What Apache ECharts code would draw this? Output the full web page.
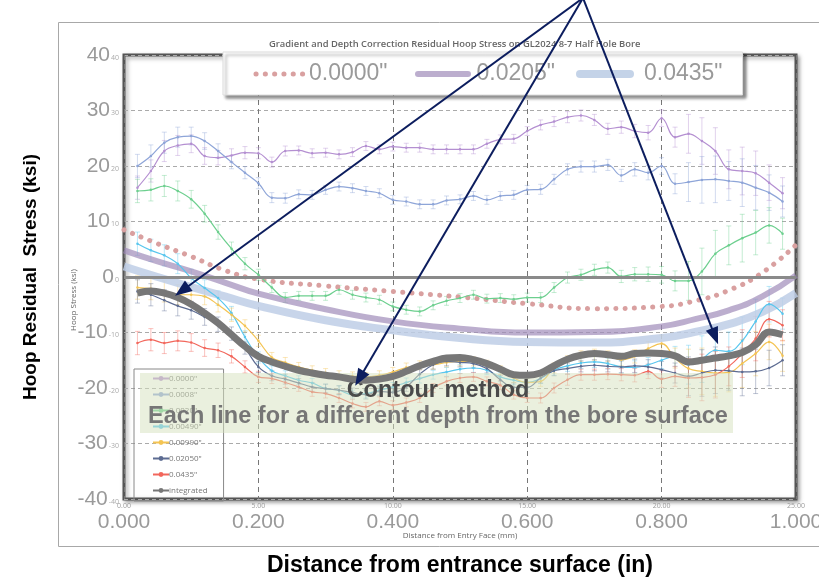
<!DOCTYPE html>
<html><head><meta charset="utf-8">
<script src="https://cdn.jsdelivr.net/npm/echarts@6/dist/echarts.min.js"></script>
<style>html,body{margin:0;padding:0;background:#fff}#c{width:819px;height:579px}</style>
</head><body><div id="c"></div>
<script>
// ---- Outer (thick / dotted) curves, x in inches ----
const xIn = [0, 0.05, 0.1, 0.15, 0.2, 0.3, 0.4, 0.5, 0.6, 0.7, 0.8, 0.85, 0.9, 0.95, 1.0];
const outer0000 = [8.5, 6.0, 3.7, 1.2, -0.4, -1.6, -2.6, -3.6, -4.8, -5.7, -5.3, -4.3, -2.4, 0.8, 5.8];
const outer0205 = [4.8, 2.8, 1.0, -1.0, -3.0, -5.8, -8.0, -9.3, -10.0, -9.9, -8.9, -7.6, -6.0, -3.5, 0.3];
const outer0435 = [1.9, 0.0, -1.8, -3.5, -5.2, -7.8, -9.6, -11.0, -11.7, -11.8, -11.0, -9.9, -8.5, -6.3, -2.9];

// ---- Contour method lines, x in mm ----
const xMm = [0.5,1.0,1.5,2.0,2.5,3.0,3.5,4.0,4.5,5.0,5.5,6.0,6.5,7.0,7.5,8.0,8.5,9.0,9.5,10.0,
  10.5,11.0,11.5,12.0,12.5,13.0,13.5,14.0,14.5,15.0,15.5,16.0,16.5,17.0,17.5,18.0,18.5,19.0,19.5,20.0,
  20.5,21.0,21.5,22.0,22.5,23.0,23.5,24.0,24.5];
const d0000 = [16.1,19.1,22.7,23.7,24.0,21.8,21.5,21.9,22.4,22.3,20.7,22.7,22.8,22.3,22.4,22.1,22.5,23.6,23.0,23.5,
  23.3,23.3,23.0,23.0,23.0,23.0,24.0,24.8,24.9,26.3,27.4,28.0,28.8,29.1,28.3,26.7,27.0,26.3,26.0,28.6,
  25.2,25.8,24.5,22.7,19.4,19.1,18.7,17.0,15.1];
const d0008 = [20.0,21.8,24.2,25.2,25.4,24.5,22.7,20.7,18.8,16.9,14.3,14.2,14.9,14.8,15.7,16.3,16.0,15.5,15.1,13.9,
  13.6,13.1,13.1,13.8,14.0,14.6,13.9,14.6,14.8,15.7,15.8,17.6,19.4,19.9,19.9,20.2,18.3,19.4,18.8,20.0,
  16.8,17.1,17.5,17.6,17.3,17.0,16.1,15.2,13.6];
const d0020 = [15.5,15.7,16.4,15.5,14.0,11.4,8.1,5.1,2.4,0.4,-1.9,-3.7,-3.4,-3.4,-3.4,-2.3,-3.2,-3.7,-4.1,-5.3,
  -5.9,-6.2,-5.1,-4.3,-3.8,-3.2,-3.9,-3.8,-4.0,-3.7,-3.7,-1.9,-0.1,0.4,1.3,1.7,0.1,0.5,0.5,0.4,
  -0.7,-0.7,1.0,4.2,5.7,7.0,8.0,9.3,7.8];
const d0049 = [6.0,4.8,3.9,2.4,-0.2,-2.0,-3.8,-6.5,-10.8,-14.5,-16.9,-17.8,-18.6,-19.1,-20.1,-20.4,-21.2,-21.0,-20.4,-19.8,
  -19.0,-18.3,-17.6,-17.1,-16.6,-16.4,-16.8,-18.0,-18.6,-19.0,-18.3,-16.8,-16.0,-15.5,-15.3,-15.6,-16.2,-16.3,-15.8,-15.0,
  -14.3,-15.8,-14.8,-13.2,-13.4,-11.5,-8.0,-4.9,-6.6];
const d0099 = [-1.9,-2.1,-2.6,-3.2,-3.2,-3.5,-5.0,-6.8,-8.8,-11.5,-14.5,-15.4,-16.2,-16.8,-17.3,-17.7,-17.9,-18.0,-17.7,-17.1,
  -16.3,-15.9,-15.8,-15.4,-15.2,-15.2,-15.8,-16.8,-18.2,-19.0,-18.8,-16.4,-15.2,-14.3,-14.0,-14.3,-14.9,-14.3,-12.9,-12.0,
  -14.6,-16.5,-17.0,-17.3,-17.2,-15.6,-13.8,-11.7,-14.2];
const d0205 = [-2.6,-3.2,-4.2,-5.2,-6.0,-7.2,-8.5,-10.2,-12.8,-16.2,-17.8,-18.4,-19.1,-19.8,-20.1,-20.4,-20.8,-21.2,-20.6,-20.8,
  -19.8,-17.5,-15.8,-15.2,-15.4,-15.6,-16.5,-18.5,-19.9,-19.9,-18.2,-16.9,-16.5,-16.1,-15.9,-16.1,-16.2,-16.0,-16.2,-16.7,
  -17.3,-17.9,-17.3,-16.8,-16.9,-17.1,-17.0,-16.4,-15.0];
const d0435 = [-11.9,-11.3,-11.9,-11.5,-11.8,-12.8,-13.2,-14.3,-16.2,-18.0,-18.3,-19.0,-19.8,-20.7,-21.0,-21.8,-22.8,-23.4,-22.4,-23.1,
  -22.6,-21.8,-20.0,-18.8,-18.2,-18.0,-18.8,-19.5,-21.2,-21.8,-21.8,-20.0,-18.5,-17.6,-17.6,-17.5,-17.6,-17.7,-17.0,-18.4,
  -17.9,-18.2,-18.1,-17.6,-16.1,-13.8,-11.1,-7.6,-8.7];
const dIntegrated = [-2.9,-2.5,-2.9,-3.7,-4.9,-6.5,-8.3,-10.4,-12.5,-14.3,-15.3,-16.1,-16.8,-17.3,-17.7,-18.0,-18.4,-18.6,-18.4,-17.9,
  -17.0,-16.0,-15.2,-14.6,-14.5,-14.9,-15.6,-16.6,-17.6,-17.7,-17.3,-16.0,-14.8,-14.1,-13.8,-14.0,-14.3,-13.8,-13.7,-13.8,
  -14.2,-15.3,-15.0,-14.6,-14.2,-13.6,-12.2,-9.9,-10.4];
// half-length of the error bars at each mm position
const errHalf = [2.1,2.0,1.9,1.8,1.6,1.5,1.3,1.2,1.1,1.0,
  0.9,0.9,0.8,0.8,0.8,0.8,0.8,0.8,0.8,0.8,
  0.8,0.8,0.8,0.8,0.8,0.8,0.8,0.8,0.8,0.8,
  0.9,0.9,1.0,1.0,1.0,1.0,1.1,1.2,1.3,1.5,
  1.8,3.5,4.2,4.2,3.5,4.3,4.0,3.2,2.8];

const outerNames = ['0.0000"', '0.0205"', '0.0435"'];
const innerNames = ['0.0000"', '0.0008"', '0.0020"', '0.00490"', '0.00990"', '0.02050"', '0.0435"', 'integrated'];
const innerColors = ['#b48fd1', '#8ea5d8', '#6ccf8e', '#58c6ee', '#f4c453', '#5d6c92', '#f2675c', '#777777'];
const innerData = [d0000, d0008, d0020, d0049, d0099, d0205, d0435, dIntegrated];

// arrow targets (data coords: mm, ksi)
const arrowTargets = [[1.9, -3.4], [8.6, -19.6], [22.1, -12.1]];

const pair = (xs, ys) => xs.map((x, i) => [x, ys[i]]);
const IP = 'i ';

function hexA(hex, a) {
  const n = parseInt(hex.slice(1), 16);
  return 'rgba(' + (n >> 16) + ',' + ((n >> 8) & 255) + ',' + (n & 255) + ',' + a + ')';
}

const series = [];
series.push({
  name: outerNames[0], type: 'line', xAxisIndex: 0, yAxisIndex: 0, smooth: 0.5, symbol: 'none',
  data: pair(xIn, outer0000),
  lineStyle: { color: '#d9a0a0', width: 5, type: [0.1, 9.2], cap: 'round' }, itemStyle: { color: '#d9a0a0' }, z: 3,
  markLine: { silent: true, symbol: 'none', label: { show: false },
    lineStyle: { color: '#8a8a8a', width: 3, type: 'solid' }, data: [{ yAxis: 0 }] }
});
series.push({
  name: outerNames[1], type: 'line', xAxisIndex: 0, yAxisIndex: 0, smooth: 0.5, symbol: 'none',
  data: pair(xIn, outer0205), lineStyle: { color: 'rgba(160,140,185,0.7)', width: 6 }, itemStyle: { color: '#a898bb' }, z: 3
});
series.push({
  name: outerNames[2], type: 'line', xAxisIndex: 0, yAxisIndex: 0, smooth: 0.5, symbol: 'none',
  data: pair(xIn, outer0435), lineStyle: { color: 'rgba(190,206,230,0.85)', width: 8 }, itemStyle: { color: '#c4d2e8' }, z: 3
});
innerNames.forEach((n, k) => {
  const integ = n === 'integrated';
  if (!integ) {
    series.push({
      name: 'err ' + n, type: 'custom', xAxisIndex: 1, yAxisIndex: 0, silent: true, z: 3,
      data: xMm.map((x, i) => [x, innerData[k][i] - errHalf[i], innerData[k][i] + errHalf[i]]),
      encode: { x: 0, y: [1, 2] },
      renderItem: (params, api) => {
        const lo = api.coord([api.value(0), api.value(1)]);
        const hi = api.coord([api.value(0), api.value(2)]);
        const c = hexA(innerColors[k], 0.4);
        const st = { stroke: c, lineWidth: 1 };
        return { type: 'group', children: [
          { type: 'line', shape: { x1: lo[0], y1: lo[1], x2: hi[0], y2: hi[1] }, style: st },
          { type: 'line', shape: { x1: lo[0] - 2.5, y1: lo[1], x2: lo[0] + 2.5, y2: lo[1] }, style: st },
          { type: 'line', shape: { x1: hi[0] - 2.5, y1: hi[1], x2: hi[0] + 2.5, y2: hi[1] }, style: st }
        ] };
      }
    });
  }
  series.push({
    name: IP + n, type: 'line', xAxisIndex: 1, yAxisIndex: 0, smooth: 0.4,
    symbol: integ ? 'none' : 'circle', symbolSize: 2.5, showSymbol: !integ,
    data: pair(xMm, innerData[k]),
    lineStyle: { color: innerColors[k], width: integ ? 7 : 1.2 },
    itemStyle: { color: innerColors[k] }, z: integ ? 6 : 4
  });
});

const chart = echarts.init(document.getElementById('c'), null, { renderer: 'canvas', width: 819, height: 579 });
const gridL = 124, gridR = 23, gridT = 55, gridB = 80;

chart.setOption({
  animation: false,
  title: {
    text: 'Gradient and Depth Correction Residual Hoop Stress on GL2024 8-7 Half Hole Bore',
    left: 264, top: 35,
    textStyle: { fontSize: 9.4, fontWeight: 600, color: '#666', fontFamily: 'Open Sans' }
  },
  grid: {
    left: gridL, right: gridR, top: gridT, bottom: gridB, show: true,
    outerBoundsMode: 'none', containLabel: false,
    backgroundColor: '#fff', borderColor: '#555', borderWidth: 3,
    shadowColor: 'rgba(0,0,0,0.35)', shadowBlur: 4, shadowOffsetX: 2, shadowOffsetY: 2
  },
  legend: [
    {
      data: outerNames.map(n => ({
        name: n, icon: 'rect',
        itemStyle: { color: 'rgba(0,0,0,0)', borderWidth: 0 }
      })),
      left: 223, top: 52, orient: 'horizontal',
      itemWidth: 50, itemHeight: 20, itemGap: 34,
      padding: [10, 20, 10, 31],
      backgroundColor: '#fff', borderColor: '#ddd', borderWidth: 1,
      shadowColor: 'rgba(0,0,0,0.45)', shadowBlur: 3, shadowOffsetX: 3, shadowOffsetY: 3,
      textStyle: { fontSize: 23, color: '#9a9a9a', fontFamily: 'Liberation Sans' },
      selectedMode: false
    },
    {
      data: innerNames.map(n => IP + n),
      formatter: n => n.slice(IP.length),
      left: 134, top: 369, orient: 'vertical',
      itemWidth: 16, itemHeight: 6, itemGap: 7,
      padding: [5, 16, 6, 18],
      borderColor: '#888', borderWidth: 1,
      textStyle: { fontSize: 8, color: '#777', fontFamily: 'Open Sans', lineHeight: 9, padding: [0, 0, 0, -5] },
      selectedMode: false
    }
  ],
  xAxis: [
    {
      type: 'value', min: 0, max: 1, interval: 0.2, position: 'bottom',
      axisLine: { show: false }, axisTick: { show: false },
      axisLabel: { formatter: v => v.toFixed(3), fontSize: 21, color: '#9a9a9a', fontFamily: 'Liberation Sans', margin: 13 },
      splitLine: { show: true, lineStyle: { color: '#777', type: [5, 4], width: 1 } },
      name: 'Distance from entrance surface (in)', nameLocation: 'middle', nameGap: 55,
      nameTextStyle: { fontSize: 23, fontWeight: 'bold', color: '#000', fontFamily: 'Liberation Sans' }
    },
    {
      type: 'value', min: 0, max: 25, interval: 5, position: 'bottom',
      axisLine: { show: false }, axisTick: { show: false },
      axisLabel: { formatter: v => v.toFixed(2), fontSize: 7, color: '#999', fontFamily: 'Open Sans', margin: 3 },
      splitLine: { show: false },
      name: 'Distance from Entry Face (mm)', nameLocation: 'middle', nameGap: 33,
      nameTextStyle: { fontSize: 8, color: '#666', fontFamily: 'Open Sans' }
    }
  ],
  yAxis: [{
    type: 'value', min: -40, max: 40, interval: 10,
    axisLine: { show: false }, axisTick: { show: false },
    axisLabel: {
      margin: 5,
      formatter: v => '{b|' + v + '}{s|' + v + '}',
      rich: {
        b: { fontSize: 21, color: '#9a9a9a', fontFamily: 'Liberation Sans' },
        s: { fontSize: 7, color: '#aaa', fontFamily: 'Open Sans', padding: [5, 0, 0, 1] }
      }
    },
    splitLine: { show: true, lineStyle: { color: '#aaa', type: [4, 3], width: 1.2 } },
    name: 'Hoop Residual  Stress (ksi)', nameLocation: 'middle', nameGap: 84,
    nameTextStyle: { fontSize: 19, fontWeight: 'bold', color: '#000', fontFamily: 'Liberation Sans' }
  }],
  series: series
});

function buildGraphics() {
  const els = [];
  els.push({ type: 'rect', z: 0, silent: true, shape: { x: 58.5, y: 22.5, width: 820, height: 524 },
    style: { fill: 'none', stroke: '#a8a8a8', lineWidth: 1 } });
  // green note box
  els.push({ type: 'rect', z: 5, silent: true, shape: { x: 140, y: 373, width: 593, height: 60 },
    style: { fill: 'rgba(214,225,190,0.5)' } });
  els.push({ type: 'text', z: 5, silent: true, x: 438, y: 391,
    style: { text: 'Contour method', font: 'bold 23.5px "Liberation Sans"', fill: '#4a4a4a', align: 'center', verticalAlign: 'middle' } });
  els.push({ type: 'text', z: 5, silent: true, x: 438, y: 417,
    style: { text: 'Each line for a different depth from the bore surface', font: 'bold 23.5px "Liberation Sans"', fill: '#767676', align: 'center', verticalAlign: 'middle' } });
  // inner y axis name
  els.push({ type: 'text', z: 51, silent: true, x: 74, y: 300, rotation: Math.PI / 2,
    style: { text: 'Hoop Stress (ksi)', font: '8px "Open Sans"', fill: '#666', align: 'center', verticalAlign: 'middle' } });
  // top legend line samples
  const lg = [
    { x1: 256, x2: 303, stroke: '#d9a0a0', w: 5, dash: [0.1, 9.2] },
    { x1: 418, x2: 468, stroke: 'rgba(160,140,185,0.7)', w: 6, dash: null },
    { x1: 580, x2: 630, stroke: 'rgba(190,206,230,0.9)', w: 8, dash: null }
  ];
  lg.forEach(l => els.push({ type: 'line', z: 60, silent: true, shape: { x1: l.x1, y1: 74, x2: l.x2, y2: 74 },
    style: { stroke: l.stroke, lineWidth: l.w, lineDash: l.dash, lineCap: 'round' } }));
  // arrows
  const apex = [583, -2];
  arrowTargets.forEach(t => {
    const p = chart.convertToPixel({ xAxisIndex: 1, yAxisIndex: 0 }, t);
    const dx = p[0] - apex[0], dy = p[1] - apex[1];
    const len = Math.sqrt(dx * dx + dy * dy);
    const ux = dx / len, uy = dy / len, nx = -uy, ny = ux;
    const L = 17, W = 13;
    const bx = p[0] - ux * L, by = p[1] - uy * L;
    els.push({ type: 'line', z: 70, silent: true, shape: { x1: apex[0], y1: apex[1], x2: bx + ux * 2, y2: by + uy * 2 },
      style: { stroke: '#0c1d5e', lineWidth: 2 } });
    els.push({ type: 'polygon', z: 70, silent: true,
      shape: { points: [[p[0], p[1]], [bx + nx * W / 2, by + ny * W / 2], [bx - nx * W / 2, by - ny * W / 2]] },
      style: { fill: '#0c1d5e' } });
  });
  chart.setOption({ graphic: { elements: els } });
}
buildGraphics();
</script>
</body></html>
